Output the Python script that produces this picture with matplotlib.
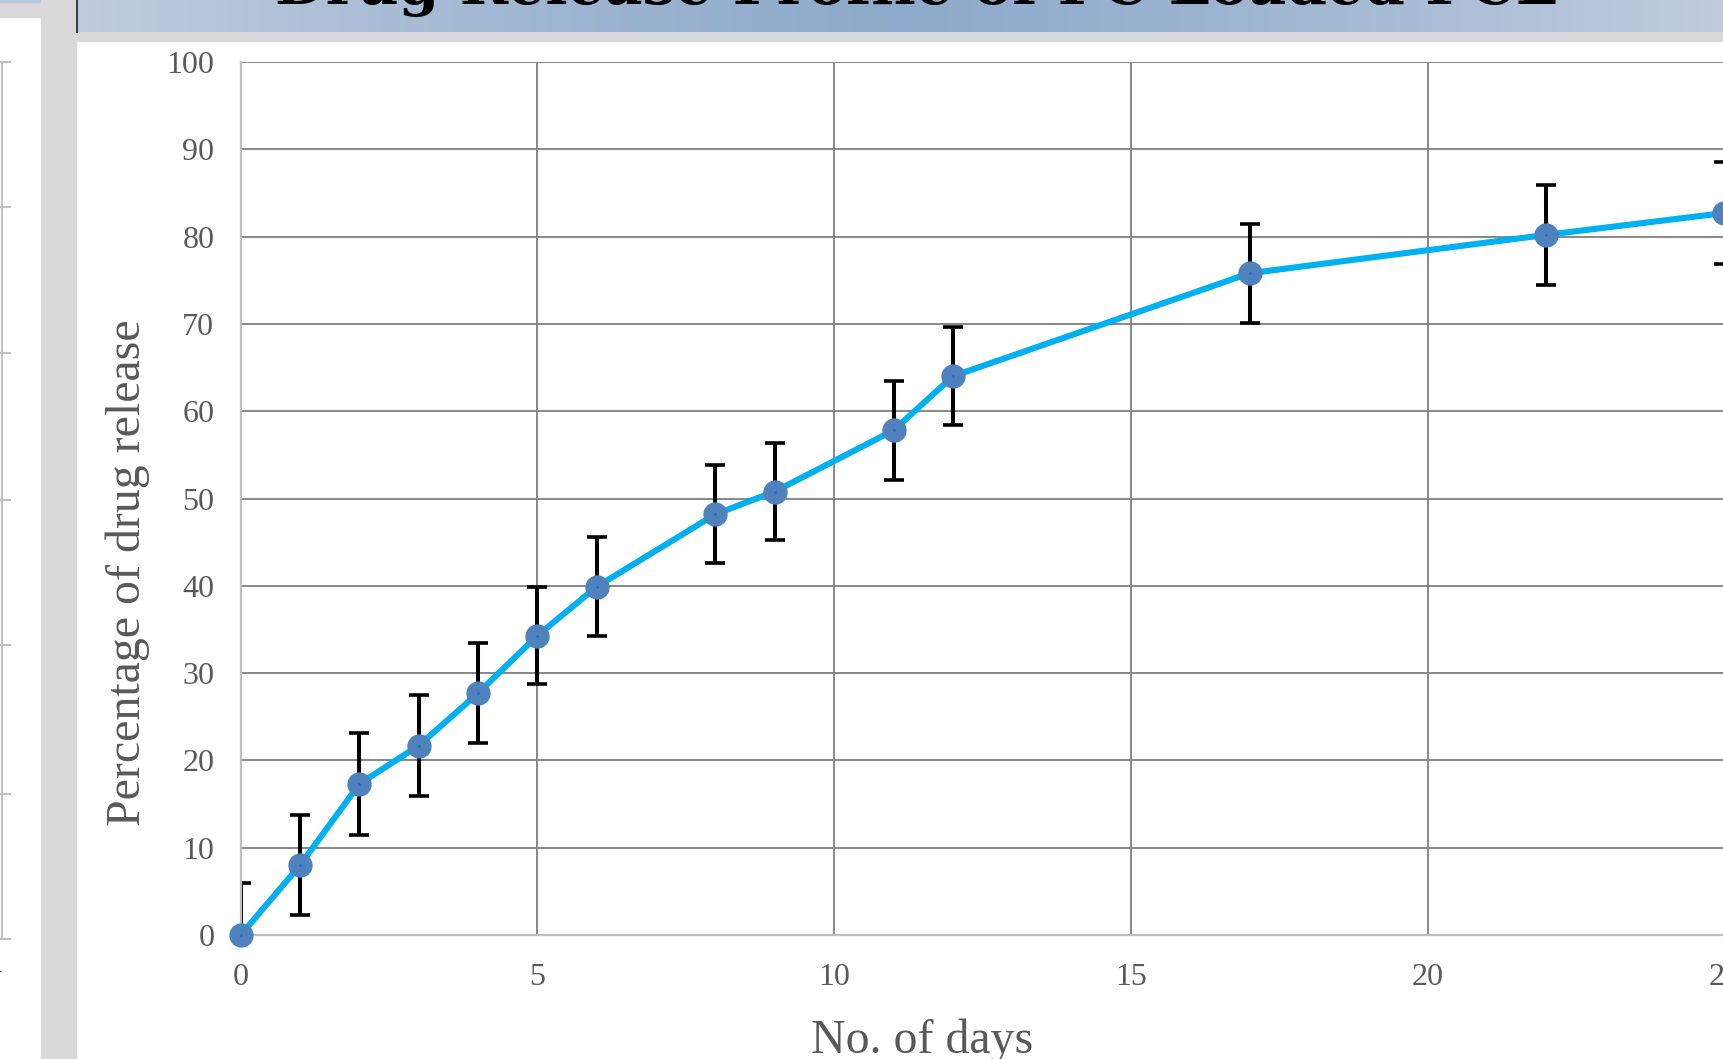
import numpy as np
import matplotlib.pyplot as plt
from matplotlib.patches import Rectangle

# data
days = [0, 1, 2, 3, 4, 5, 6, 8, 9, 11, 12, 17, 22, 25]
release = [0.0, 8.0, 17.3, 21.7, 27.7, 34.3, 39.9, 48.2, 50.8, 57.8, 64.0, 75.8, 80.2, 82.7]
release_err = [6.0, 5.7, 5.8, 5.8, 5.7, 5.6, 5.7, 5.6, 5.6, 5.7, 5.6, 5.7, 5.7, 5.8]

xticks = [0, 5, 10, 15, 20, 25]
yticks = [0, 10, 20, 30, 40, 50, 60, 70, 80, 90, 100]

title = "Drug Release Profile of PC Loaded PCL"
xlabel = "No. of days"
ylabel = "Percentage of drug release"

W, H = 1723, 1059
fig = plt.figure(figsize=(W / 100, H / 100), dpi=100)

# background: the screenshot frame around the chart (pixel coordinates)
bg = fig.add_axes([0, 0, 1, 1])
bg.set_xlim(0, W)
bg.set_ylim(H, 0)
bg.axis('off')
gray = '#d9d9d9'
bg.add_patch(Rectangle((0, 0), W, H, color='white'))
bg.add_patch(Rectangle((0, 0), 41, 17, color=gray))
bg.add_patch(Rectangle((0, 0), 41, 2, color='#b8c8de'))
bg.add_patch(Rectangle((41, 0), 35, H, color=gray))
bg.add_patch(Rectangle((76, 32), W - 76, 9, color=gray))

# gradient title banner
t = np.linspace(0, 1, 400)
shade = np.abs(t - 0.5) * 2
light = np.array([0.75, 0.80, 0.87])
dark = np.array([0.56, 0.67, 0.80])
grad = dark[None, :] + (light - dark)[None, :] * shade[:, None] ** 1.3
bg.imshow(grad[None, :, :], extent=[77, W, 32, 0], aspect='auto', zorder=1)
bg.plot([77, 77], [0, 32], color='#404040', lw=1.5, zorder=2)
bg.text(916, 4, title, ha='center', va='baseline', fontsize=42,
        family='DejaVu Serif', fontweight='bold', color='black', zorder=3)

# edge of the neighbouring chart on the left
bg.plot([1.5, 1.5], [62, 939], color='#bfbfbf', lw=1.5)
for yy in [62, 207, 353, 500, 645, 794, 939]:
    bg.plot([0, 10], [yy, yy], color='#bfbfbf', lw=1.5)
bg.text(3, 965, '1', ha='right', va='center', fontsize=20,
        family='Liberation Serif', color='#404040')

# main chart
x0, x1 = 240.7, 1724.4
y0, y1 = 935, 62
ax = fig.add_axes([x0 / W, 1 - y0 / H, (x1 - x0) / W, (y0 - y1) / H])
ax.set_facecolor('none')
ax.set_xlim(0, 25)
ax.set_ylim(0, 100)

grid_c = '#878787'
for v in yticks[1:]:
    ax.axhline(v, color=grid_c, lw=1.4, zorder=1)
for v in xticks[1:]:
    ax.axvline(v, color=grid_c, lw=1.4, zorder=1)

for s in ['top', 'right']:
    ax.spines[s].set_visible(False)
for s in ['left', 'bottom']:
    ax.spines[s].set_color('#bfbfbf')
    ax.spines[s].set_linewidth(1.6)

ax.errorbar(days, release, yerr=release_err, fmt='none', ecolor='black',
            elinewidth=2.9, capsize=7.5, capthick=2.6, zorder=2)
ax.plot(days, release, color='#00b0f0', lw=4.4, zorder=3, clip_on=False)
ax.plot(days, release, 'o', color='#4f81bd', markersize=16.5, zorder=4, clip_on=False)
ax.plot(days, release, '.', color='#1f6fd0', markersize=2, zorder=5, clip_on=False)

ax.set_xticks(xticks)
ax.set_yticks(yticks)
ax.tick_params(length=0, labelsize=23, labelcolor='#595959')
ax.tick_params(axis='y', pad=19)
ax.tick_params(axis='x', pad=20)
for lab in ax.get_xticklabels() + ax.get_yticklabels():
    lab.set_family('Liberation Serif')

fig.text(128 / W, 1 - 573 / H, ylabel, rotation=90, ha='center', va='center',
         fontsize=34.5, family='Liberation Serif', color='#595959')
fig.text(922 / W, 1 - 1053 / H, xlabel, ha='center', va='baseline',
         fontsize=34.5, family='Liberation Serif', color='#595959')

fig.savefig('out.png', dpi=100)
